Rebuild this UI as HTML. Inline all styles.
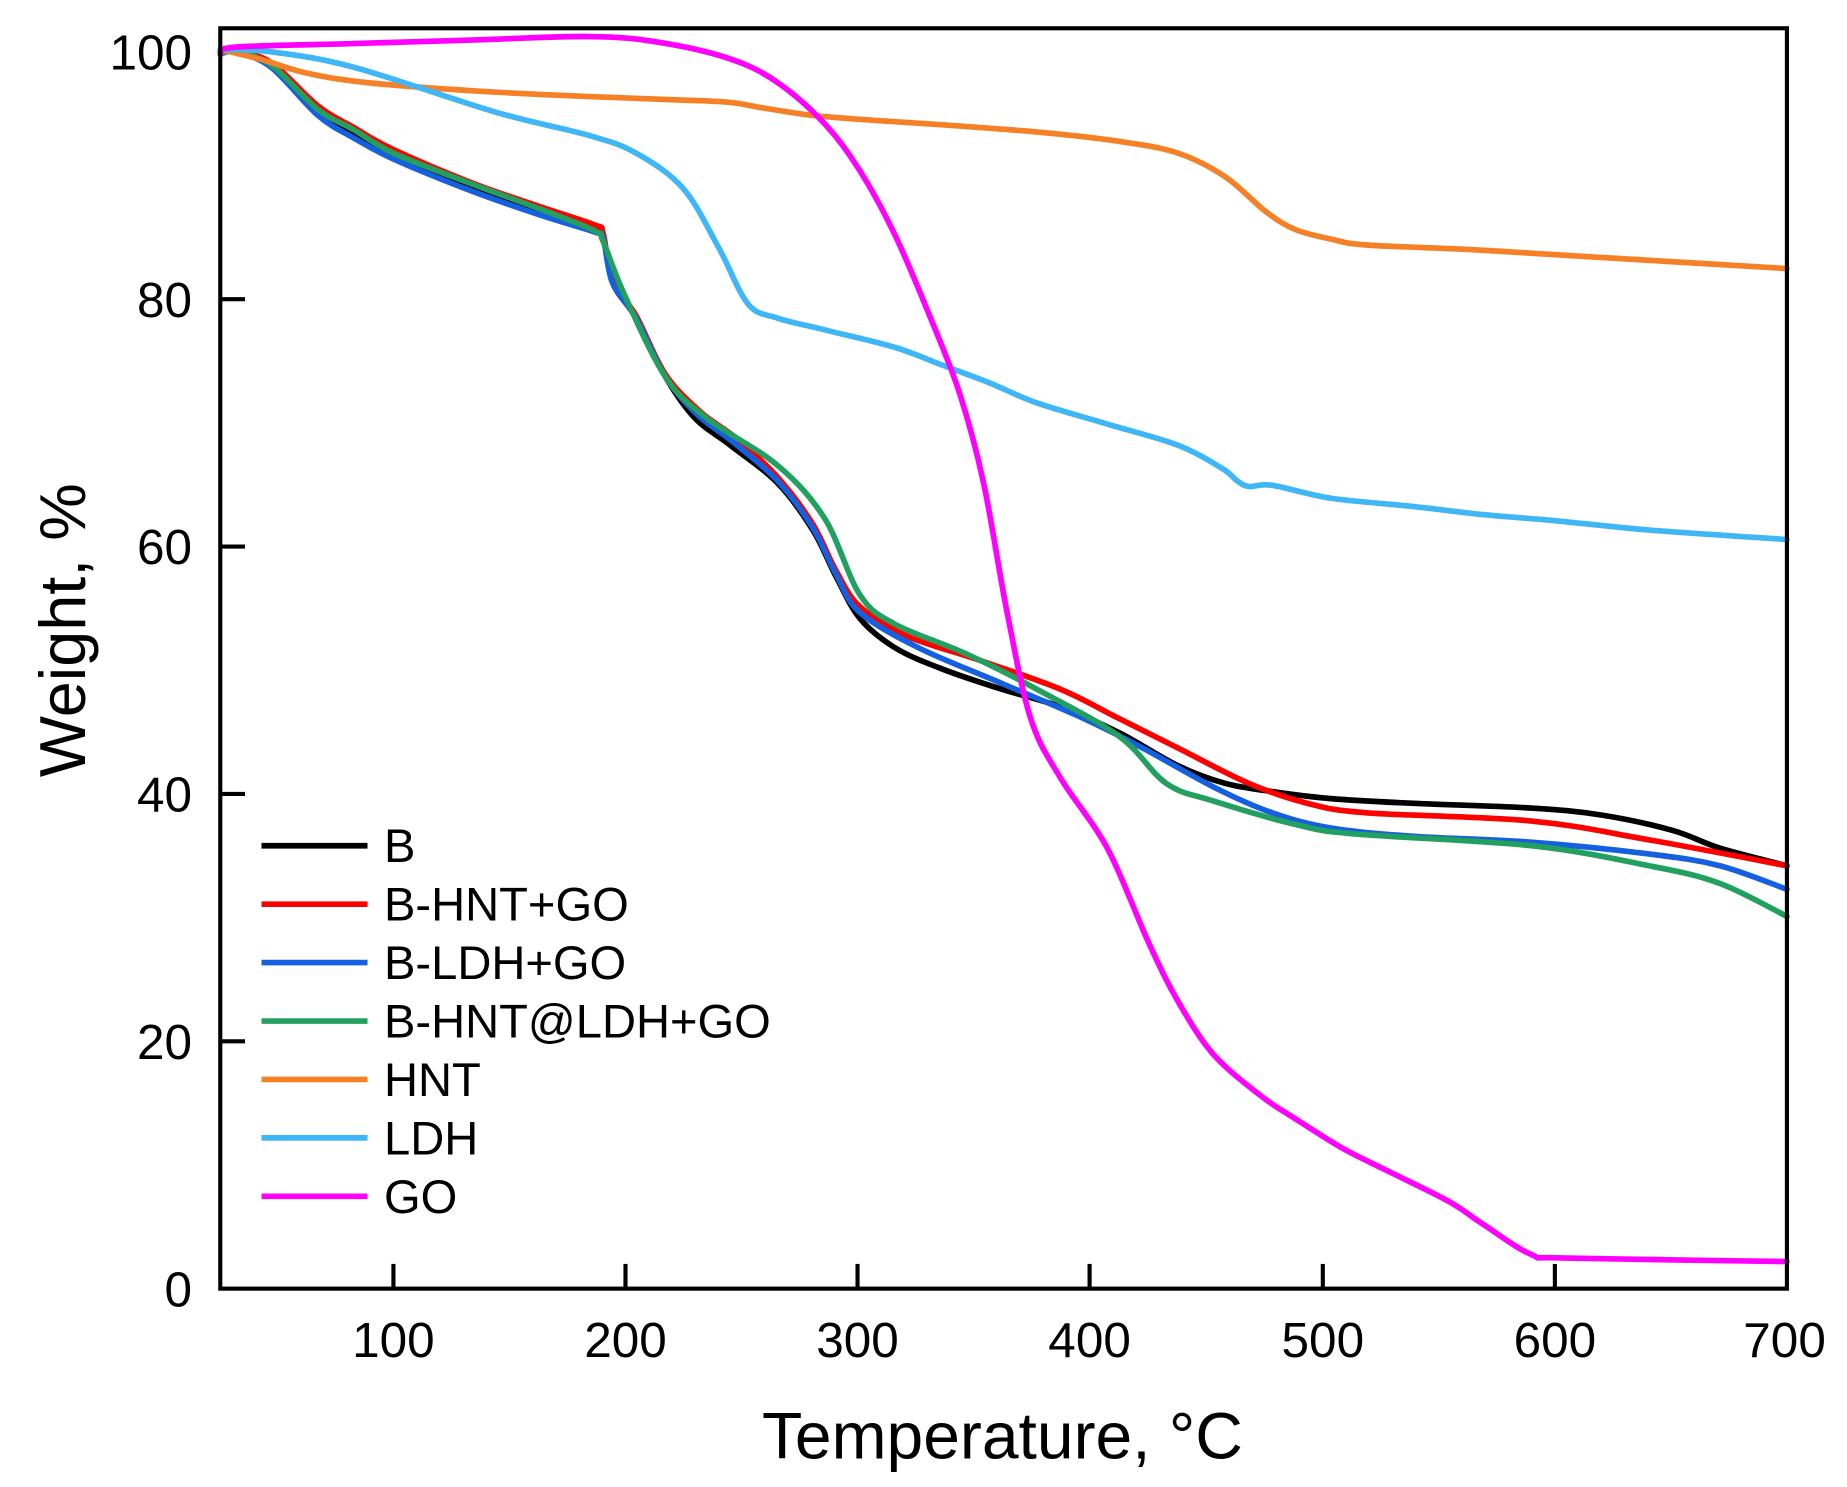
<!DOCTYPE html>
<html><head><meta charset="utf-8"><style>html,body{margin:0;padding:0;background:#fff}svg{display:block}</style></head>
<body>
<svg id="s" width="1847" height="1487" viewBox="0 0 1568 1262.4" preserveAspectRatio="none" xmlns="http://www.w3.org/2000/svg" font-family="Liberation Sans, sans-serif">
<rect width="1568" height="1263" fill="#fff"/>
<g id="curves" fill="none" stroke-width="4.8" stroke-linejoin="round" stroke-linecap="round"></g>
<rect x="187" y="24" width="1330" height="1070" fill="none" stroke="#000" stroke-width="3.5"/>
<g stroke="#000" stroke-width="3.5">
<line x1="334" y1="1094" x2="334" y2="1073"/><line x1="531" y1="1094" x2="531" y2="1073"/><line x1="728" y1="1094" x2="728" y2="1073"/><line x1="925" y1="1094" x2="925" y2="1073"/><line x1="1123" y1="1094" x2="1123" y2="1073"/><line x1="1320" y1="1094" x2="1320" y2="1073"/>
<line x1="187" y1="884" x2="208" y2="884"/><line x1="187" y1="674" x2="208" y2="674"/><line x1="187" y1="464" x2="208" y2="464"/><line x1="187" y1="254" x2="208" y2="254"/>
</g>
<g font-size="42" text-anchor="middle" fill="#000">
<text x="334" y="1152">100</text><text x="531" y="1152">200</text><text x="728" y="1152">300</text><text x="925" y="1152">400</text><text x="1123" y="1152">500</text><text x="1320" y="1152">600</text><text x="1515" y="1152">700</text>
</g>
<g font-size="42" text-anchor="end" fill="#000">
<text x="163" y="59">100</text><text x="163" y="269">80</text><text x="163" y="479">60</text><text x="163" y="689">40</text><text x="163" y="899">20</text><text x="163" y="1109">0</text>
</g>
<text x="851" y="1238" font-size="56" text-anchor="middle">Temperature, °C</text>
<text transform="translate(72,535) rotate(-90)" font-size="55" text-anchor="middle">Weight, %</text>
<g id="leg" font-size="40"></g>
</svg>
<script>
var S=[
["#000",[[187,44],[200,44],[230,55],[270,95],[300,112],[334,130],[400,158],[460,180],[505,195],[512,200],[520,240],[540,270],[565,320],[590,355],[620,378],[660,410],[690,450],[710,490],[730,525],[760,550],[800,568],[850,585],[900,600],[950,622],[1000,650],[1040,665],[1080,672],[1130,678],[1200,682],[1300,686],[1360,692],[1420,705],[1460,720],[1517,735]],"B"],
["#f00",[[187,44],[200,44],[230,53],[270,90],[300,108],[334,127],[400,155],[460,176],[505,191],[512,198],[520,238],[540,268],[565,318],[595,350],[625,372],[660,405],[690,445],[710,485],[730,515],[770,540],[830,560],[900,585],[950,610],[1000,635],[1060,665],[1110,682],[1160,690],[1300,697],[1400,713],[1517,735]],"B-HNT+GO"],
["#1560e0",[[187,42],[200,44],[230,57],[270,98],[300,117],[334,135],[400,162],[460,183],[505,197],[512,202],[520,240],[540,270],[565,320],[592,352],[622,375],[660,408],[690,448],[710,488],[730,520],[780,550],[850,580],[920,610],[970,635],[1030,668],[1080,690],[1130,703],[1200,710],[1300,715],[1400,725],[1460,735],[1517,755]],"B-LDH+GO"],
["#22a060",[[187,46],[200,44],[230,55],[270,93],[300,110],[334,130],[400,156],[460,178],[505,196],[512,205],[530,250],[565,320],[600,355],[660,395],[700,440],[730,505],[760,530],[820,555],[880,585],[950,625],[990,665],[1030,680],[1100,700],[1150,708],[1300,718],[1400,735],[1460,750],[1517,778]],"B-HNT@LDH+GO"],
["#f58025",[[187,42],[220,50],[260,62],[310,70],[400,77],[500,82],[580,85],[620,87],[650,92],[690,98],[740,102],[800,106],[880,112],[950,120],[1000,130],[1040,150],[1075,180],[1100,195],[1130,203],[1160,208],[1250,212],[1350,218],[1517,228]],"HNT"],
["#3fb6f5",[[187,42],[230,44],[300,57],[420,95],[500,115],[540,130],[580,160],[610,210],[635,258],[660,270],[700,280],[760,295],[800,310],[840,325],[880,342],[940,360],[1000,378],[1038,398],[1050,408],[1060,413],[1080,412],[1130,423],[1200,430],[1260,437],[1320,442],[1400,450],[1517,458]],"LDH"],
["#ff00ff",[[187,46],[200,40],[300,37],[400,34],[500,31],[560,36],[620,50],[660,70],[700,105],[730,145],[760,200],[790,270],[815,335],[835,410],[855,520],[875,610],[900,660],[940,720],[975,800],[1000,850],[1030,895],[1070,930],[1100,950],[1140,975],[1180,995],[1230,1020],[1260,1040],[1300,1065],[1330,1068],[1517,1071]],"GO"]];
function path(p){var d="M"+p[0][0]+","+p[0][1];for(var i=0;i<p.length-1;i++){var a=p[i>0?i-1:0],b=p[i],c=p[i+1],e=p[i+2<p.length?i+2:i+1];
d+=" C"+(b[0]+(c[0]-a[0])/6).toFixed(1)+","+(b[1]+(c[1]-a[1])/6).toFixed(1)+" "+(c[0]-(e[0]-b[0])/6).toFixed(1)+","+(c[1]-(e[1]-b[1])/6).toFixed(1)+" "+c[0]+","+c[1];}return d;}
var g=document.getElementById("curves"),L=document.getElementById("leg"),ns="http://www.w3.org/2000/svg";
S.forEach(function(s,i){var p=document.createElementNS(ns,"path");p.setAttribute("d",path(s[1]));p.setAttribute("stroke",s[0]);g.appendChild(p);
var y=718+i*49.6;var l=document.createElementNS(ns,"line");l.setAttribute("x1",222);l.setAttribute("x2",312);l.setAttribute("y1",y);l.setAttribute("y2",y);l.setAttribute("stroke",s[0]);l.setAttribute("stroke-width",4.8);L.appendChild(l);
var t=document.createElementNS(ns,"text");t.setAttribute("x",326);t.setAttribute("y",y+14);t.textContent=s[2];L.appendChild(t);});
</script>
</body></html>
